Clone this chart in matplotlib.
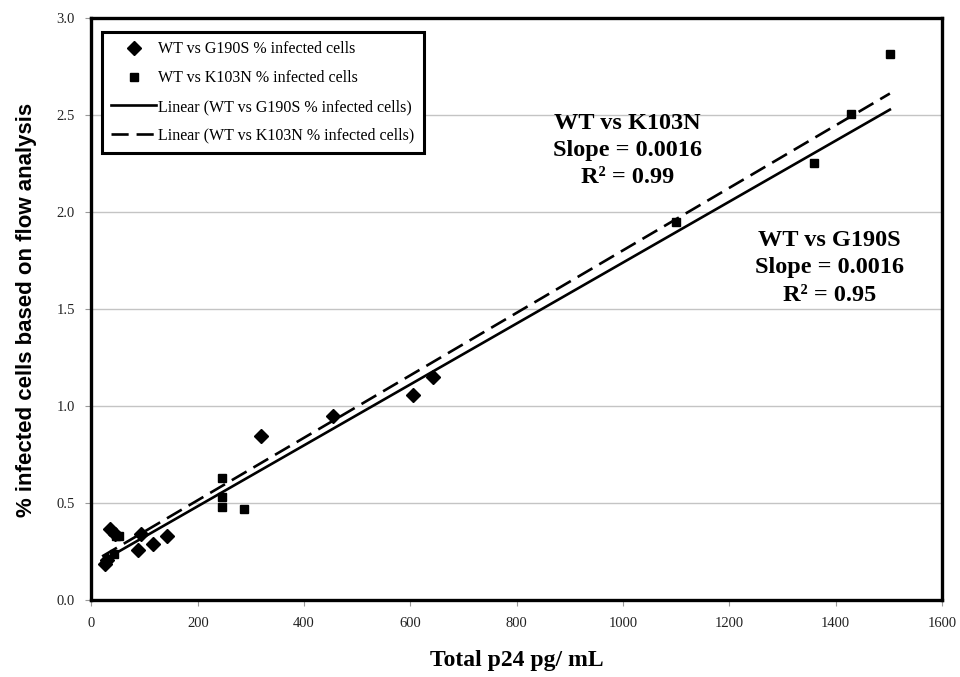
import numpy as np
import matplotlib.pyplot as plt

# total p24 (pg/mL) vs % infected cells, flow analysis
g190s_x = [25, 30, 35, 44, 88, 94, 116, 143, 318, 455, 605, 642]
g190s_y = [0.19, 0.21, 0.37, 0.345, 0.26, 0.345, 0.29, 0.33, 0.85, 0.95, 1.06, 1.15]

k103n_x = [42, 47, 52, 245, 245, 245, 286, 1100, 1360, 1429, 1502]
k103n_y = [0.24, 0.335, 0.33, 0.63, 0.535, 0.48, 0.47, 1.95, 2.255, 2.51, 2.815]

# linear trend lines (slope, intercept) over the p24 range
trend_range = [20, 1502]
g190s_fit = (0.00157, 0.172)
k103n_fit = (0.00161, 0.195)

serif = ['Liberation Serif', 'DejaVu Serif']
plt.rcParams['font.family'] = serif

fig = plt.figure(figsize=(9.6, 6.77), dpi=100)
ax = fig.add_axes([0.0953, 0.113, 0.8859, 0.8597])

tx = np.array(trend_range, dtype=float)
ax.plot(tx, g190s_fit[0] * tx + g190s_fit[1], color='black', lw=1.9,
        label='Linear (WT vs G190S % infected cells)', zorder=3)
ax.plot(tx, k103n_fit[0] * tx + k103n_fit[1], color='black', lw=1.9,
        linestyle=(0, (6.5, 3.0)),
        label='Linear (WT vs K103N % infected cells)', zorder=3)
ax.plot(g190s_x, g190s_y, linestyle='none', marker='D', ms=7, color='black',
        label='WT vs G190S % infected cells', zorder=4)
ax.plot(k103n_x, k103n_y, linestyle='none', marker='s', ms=5.5, color='black',
        label='WT vs K103N % infected cells', zorder=4)

ax.set_xlim(0, 1600)
ax.set_ylim(0, 3.0)
ax.set_xticks(np.arange(0, 1601, 200))
ax.set_yticks(np.arange(0, 3.01, 0.5))
ax.set_yticklabels([f'{v:.1f}' for v in np.arange(0, 3.01, 0.5)])
ax.yaxis.grid(True, color='#c4c4c4', lw=1)
ax.set_axisbelow(True)
ax.tick_params(axis='both', labelsize=10.5, length=4, color='#999999',
               labelcolor='#222222', pad=8)

for sp in ax.spines.values():
    sp.set_linewidth(2.4)
    sp.set_color('black')

ax.set_xlabel('Total p24 pg/ mL', fontsize=17, fontweight='bold', labelpad=14)
ax.set_ylabel('% infected cells based on flow analysis', fontsize=16,
              fontweight='bold', labelpad=14,
              family=['Liberation Sans Narrow', 'Liberation Sans', 'DejaVu Sans'])

handles, labels = ax.get_legend_handles_labels()
order = [2, 3, 0, 1]
leg = ax.legend([handles[i] for i in order], [labels[i] for i in order],
                loc='upper left', bbox_to_anchor=(0.012, 0.977),
                borderaxespad=0, fontsize=11.5, frameon=True, fancybox=False,
                handlelength=2.8, handletextpad=0.15, labelspacing=0.8,
                borderpad=0.6)
leg.get_frame().set_edgecolor('black')
leg.get_frame().set_linewidth(2.2)
leg.get_frame().set_alpha(1)

ax.text(1008, 2.32, 'WT vs K103N\nSlope = 0.0016\nR² = 0.99', ha='center',
        va='center', fontsize=17.5, fontweight='bold', linespacing=1.4)
ax.text(1388, 1.714, 'WT vs G190S\nSlope = 0.0016\nR² = 0.95', ha='center',
        va='center', fontsize=17.5, fontweight='bold', linespacing=1.4)

fig.savefig('out.png', dpi=100)
